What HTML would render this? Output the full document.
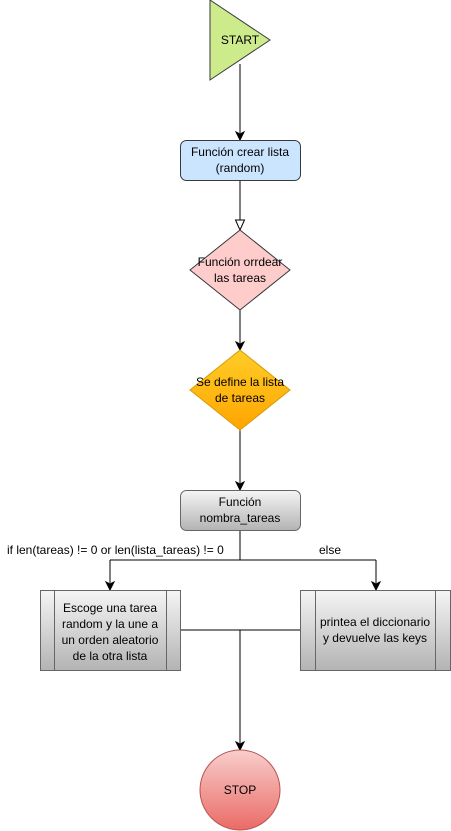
<!DOCTYPE html>
<html><head><meta charset="utf-8"><style>
html,body{margin:0;padding:0;background:#fff;}
svg{display:block;}
text{font-family:"Liberation Sans",Arial,sans-serif;font-size:12px;fill:#000;}
</style></head><body>
<svg width="451" height="831" viewBox="0 0 451 831" xmlns="http://www.w3.org/2000/svg">
<defs>
<linearGradient id="gr" x1="0" y1="0" x2="0" y2="1"><stop offset="0" stop-color="#f5f5f5"/><stop offset="1" stop-color="#b3b3b3"/></linearGradient>
<linearGradient id="go" x1="0" y1="0" x2="0" y2="1"><stop offset="0" stop-color="#ffcd28"/><stop offset="1" stop-color="#ffa500"/></linearGradient>
<linearGradient id="gs" x1="0" y1="0" x2="0" y2="1"><stop offset="0" stop-color="#f8cecc"/><stop offset="1" stop-color="#ea6b66"/></linearGradient>
</defs>
<g stroke="#000" stroke-width="1" fill="none">
<path d="M240 64V133"/>
<path d="M240 180V220"/>
<path d="M240 310V343"/>
<path d="M240 430V483"/>
<path d="M240 530V560M110 560H376M110 560V583M376 560V583"/>
<path d="M180 630H300M240 630V743"/>
</g>
<g fill="#000" stroke="#000">
<path d="M240 140l-4 -8l4 2l4 -2z"/>
<path d="M240 350l-4 -8l4 2l4 -2z"/>
<path d="M240 490l-4 -8l4 2l4 -2z"/>
<path d="M110 590l-4 -8l4 2l4 -2z"/>
<path d="M376 590l-4 -8l4 2l4 -2z"/>
<path d="M240 750l-4 -8l4 2l4 -2z"/>
</g>
<path d="M240 230l-4.5 -10h9z" fill="#fff" stroke="#000"/>
<polygon points="210,0 270,40 210,80" fill="#cdeb8b" stroke="#36393d"/>
<text x="240" y="44" text-anchor="middle">START</text>
<rect x="180.5" y="140.5" width="120" height="40" rx="6" fill="#cce5ff" stroke="#36393d"/>
<text x="240" y="156" text-anchor="middle">Función crear lista</text>
<text x="240" y="172" text-anchor="middle">(random)</text>
<polygon points="240,230 290,270 240,310 190,270" fill="#ffcccc" stroke="#36393d"/>
<text x="240" y="266" text-anchor="middle">Función orrdear</text>
<text x="240" y="282" text-anchor="middle">las tareas</text>
<polygon points="240,350 290,390 240,430 190,390" fill="url(#go)" stroke="#d79b00"/>
<text x="240" y="386" text-anchor="middle">Se define la lista</text>
<text x="240" y="402" text-anchor="middle">de tareas</text>
<rect x="180.5" y="490.5" width="120" height="40" rx="6" fill="url(#gr)" stroke="#666"/>
<text x="240" y="506" text-anchor="middle">Función</text>
<text x="240" y="522" text-anchor="middle">nombra_tareas</text>
<text x="7" y="554">if len(tareas) != 0 or len(lista_tareas) != 0</text>
<text x="330" y="554" text-anchor="middle">else</text>
<rect x="40.5" y="590.5" width="140" height="80" fill="url(#gr)" stroke="#666"/>
<path d="M54.5 590.5V670.5M166.5 590.5V670.5" stroke="#666"/>
<text x="110" y="612" text-anchor="middle">Escoge una tarea</text>
<text x="110" y="628" text-anchor="middle">random y la une a</text>
<text x="110" y="644" text-anchor="middle">un orden aleatorio</text>
<text x="110" y="660" text-anchor="middle">de la otra lista</text>
<rect x="300.5" y="590.5" width="150" height="80" fill="url(#gr)" stroke="#666"/>
<path d="M315.5 590.5V670.5M435.5 590.5V670.5" stroke="#666"/>
<text x="375" y="626" text-anchor="middle">printea el diccionario</text>
<text x="375" y="642" text-anchor="middle">y devuelve las keys</text>
<circle cx="240" cy="790" r="40" fill="url(#gs)" stroke="#b85450"/>
<text x="240" y="794" text-anchor="middle">STOP</text>
</svg>
</body></html>
